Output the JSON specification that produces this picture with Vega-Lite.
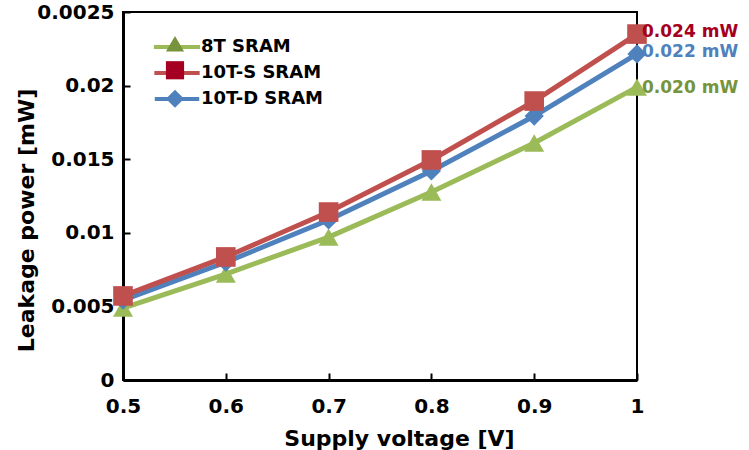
{
  "$schema": "https://vega.github.io/schema/vega-lite/v6.json",
  "width": 514,
  "height": 368,
  "autosize": "none",
  "padding": {"left": 123, "top": 12, "right": 112, "bottom": 70},
  "background": "white",
  "config": {
    "view": {"stroke": "black", "strokeWidth": 2},
    "axis": {
      "domainColor": "black", "domainWidth": 3,
      "tickColor": "black", "tickWidth": 2, "tickSize": -7,
      "labelFont": "DejaVu Sans", "labelFontWeight": "bold", "labelFontSize": 20, "labelColor": "black",
      "labelFlush": false, "labelOverlap": false,
      "titleFont": "DejaVu Sans", "titleFontWeight": "bold", "titleFontSize": 22, "titleColor": "black",
      "grid": false
    },
    "legend": {
      "labelFont": "DejaVu Sans", "labelFontWeight": "bold", "labelFontSize": 18, "labelColor": "black",
      "padding": 0
    }
  },
  "datasets": {
    "series": [
      {"v": 0.5, "p": 0.00489, "s": "8T SRAM"},
      {"v": 0.6, "p": 0.0072, "s": "8T SRAM"},
      {"v": 0.7, "p": 0.00971, "s": "8T SRAM"},
      {"v": 0.8, "p": 0.01277, "s": "8T SRAM"},
      {"v": 0.9, "p": 0.0161, "s": "8T SRAM"},
      {"v": 1.0, "p": 0.0199, "s": "8T SRAM"},
      {"v": 0.5, "p": 0.00543, "s": "10T-D SRAM"},
      {"v": 0.6, "p": 0.008, "s": "10T-D SRAM"},
      {"v": 0.7, "p": 0.01087, "s": "10T-D SRAM"},
      {"v": 0.8, "p": 0.0142, "s": "10T-D SRAM"},
      {"v": 0.9, "p": 0.01793, "s": "10T-D SRAM"},
      {"v": 1.0, "p": 0.02215, "s": "10T-D SRAM"},
      {"v": 0.5, "p": 0.00571, "s": "10T-S SRAM"},
      {"v": 0.6, "p": 0.00836, "s": "10T-S SRAM"},
      {"v": 0.7, "p": 0.01141, "s": "10T-S SRAM"},
      {"v": 0.8, "p": 0.01495, "s": "10T-S SRAM"},
      {"v": 0.9, "p": 0.01895, "s": "10T-S SRAM"},
      {"v": 1.0, "p": 0.0235, "s": "10T-S SRAM"}
    ],
    "labels": [
      {"v": 1.0, "p": 0.02364, "s": "10T-S SRAM", "t": "0.024 mW"},
      {"v": 1.0, "p": 0.02231, "s": "10T-D SRAM", "t": "0.022 mW"},
      {"v": 1.0, "p": 0.01987, "s": "8T SRAM", "t": "0.020 mW"}
    ]
  },
  "encoding": {
    "x": {
      "field": "v", "type": "quantitative",
      "scale": {"domain": [0.5, 1], "nice": false, "zero": false},
      "axis": {"values": [0.5, 0.6, 0.7, 0.8, 0.9, 1], "format": "~g", "labelPadding": 23,
        "title": "Supply voltage [V]", "titleX": 276, "titleY": 65, "titleBaseline": "alphabetic", "titleAlign": "center"}
    },
    "y": {
      "field": "p", "type": "quantitative",
      "scale": {"domain": [0, 0.025], "nice": false},
      "axis": {"values": [0, 0.005, 0.01, 0.015, 0.02, 0.025], "format": "~g",
        "labelExpr": "datum.value > 0.0249 ? '0.0025' : datum.label",
        "labelPadding": 16, "title": "Leakage power [mW]",
        "titleX": -90, "titleY": 208, "titleBaseline": "alphabetic", "titleAlign": "center", "titleAngle": -90}
    }
  },
  "layer": [
    {
      "data": {"name": "series"},
      "mark": {"type": "line", "strokeWidth": 5},
      "encoding": {
        "stroke": {
          "field": "s", "type": "nominal",
          "scale": {"domain": ["8T SRAM", "10T-S SRAM", "10T-D SRAM"], "range": ["#9BBB59", "#C0504D", "#4F81BD"]},
          "legend": {
            "orient": "none", "legendX": 42, "legendY": 23, "title": null,
            "symbolType": "M-2.31,0H2.31", "symbolSize": 330, "symbolStrokeWidth": 4,
            "labelOffset": 12, "rowPadding": 5
          }
        },
        "order": {"field": "v"}
      }
    },
    {
      "data": {"name": "series"},
      "mark": {"type": "point", "filled": true, "opacity": 1},
      "encoding": {
        "fill": {
          "field": "s", "type": "nominal",
          "scale": {"domain": ["8T SRAM", "10T-S SRAM", "10T-D SRAM"], "range": ["#9BBB59", "#C0504D", "#4F81BD"]},
          "legend": null
        },
        "shape": {
          "field": "s", "type": "nominal",
          "scale": {"domain": ["8T SRAM", "10T-S SRAM", "10T-D SRAM"], "range": ["triangle-up", "square", "diamond"]},
          "legend": null
        },
        "size": {
          "field": "s", "type": "nominal",
          "scale": {"domain": ["8T SRAM", "10T-S SRAM", "10T-D SRAM"], "range": [400, 370, 300]},
          "legend": null
        }
      }
    },
    {
      "data": {"name": "series"},
      "transform": [{"filter": "false"}],
      "mark": {"type": "point", "filled": true, "opacity": 1},
      "encoding": {
        "color": {
          "field": "s", "type": "nominal",
          "scale": {"domain": ["8T SRAM", "10T-S SRAM", "10T-D SRAM"], "range": ["#77933C", "#A50021", "#4F81BD"]},
          "legend": {
            "orient": "none", "legendX": 42, "legendY": 21.75, "title": null,
            "symbolSize": 330, "symbolOpacity": 1, "labelOffset": 12, "rowPadding": 2.5, "labelExpr": "''"
          }
        },
        "shape": {
          "field": "s", "type": "nominal",
          "scale": {"domain": ["8T SRAM", "10T-S SRAM", "10T-D SRAM"], "range": ["triangle-up", "square", "diamond"]},
          "legend": {
            "orient": "none", "legendX": 42, "legendY": 21.75, "title": null,
            "symbolSize": 330, "symbolOpacity": 1, "labelOffset": 12, "rowPadding": 2.5, "labelExpr": "''"
          }
        }
      }
    },
    {
      "data": {"name": "labels"},
      "mark": {"type": "text", "align": "left", "baseline": "middle", "dx": 5, "font": "DejaVu Sans", "fontWeight": "bold", "fontSize": 17},
      "encoding": {
        "text": {"field": "t"},
        "color": {
          "field": "s", "type": "nominal",
          "scale": {"domain": ["8T SRAM", "10T-S SRAM", "10T-D SRAM"], "range": ["#77933C", "#A50021", "#4F81BD"]},
          "legend": null
        }
      }
    }
  ],
  "resolve": {"scale": {"color": "independent", "shape": "independent"}}
}
